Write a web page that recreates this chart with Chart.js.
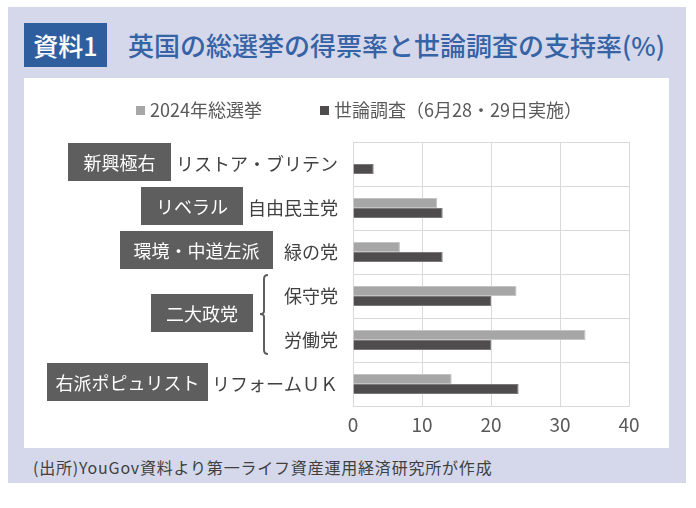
<!DOCTYPE html>
<html lang="ja">
<head>
<meta charset="utf-8">
<script src="https://cdn.jsdelivr.net/npm/chart.js@4"></script>
<style>
  body { margin: 0; background: #fff; font-family: "Noto Sans CJK JP", sans-serif; }
  .frame { position: absolute; left: 8px; top: 7px; width: 678px; height: 476px; background: #d5d8ea; }
  .badge { position: absolute; left: 24px; top: 23px; width: 83px; height: 44px; background: #2f5e9f;
           color: #fff; font-size: 25px; line-height: 44px; text-align: center; font-weight: 500; }
  .title { position: absolute; left: 128px; top: 27px; font-size: 26px; line-height: 36px; color: #3563a6; font-weight: 500; }
  .panel { position: absolute; left: 24px; top: 78px; width: 645px; height: 370px; background: #fff; }
  .source { position: absolute; left: 33px; top: 456px; font-size: 16px; line-height: 22px; color: #404040; letter-spacing: 0.8px; }
</style>
</head>
<body>
<div class="frame"></div>
<div class="badge">資料1</div>
<div class="title">英国の総選挙の得票率と世論調査の支持率(%)</div>
<div class="panel"><canvas id="chart" width="645" height="370"></canvas></div>
<div class="source">(出所)YouGov資料より第一ライフ資産運用経済研究所が作成</div>
<script>
// data
const parties = ['リストア・ブリテン', '自由民主党', '緑の党', '保守党', '労働党', 'リフォームＵＫ'];
const election2024 = [null, 12.2, 6.8, 23.7, 33.7, 14.3];
const pollJune = [3, 13, 13, 20, 20, 24];
const seriesNames = ['2024年総選挙', '世論調査（6月28・29日実施）'];
const xTicks = [0, 10, 20, 30, 40];
// group tags on the left: text and which row(s) they belong to
const groupNames = ['新興極右', 'リベラル', '環境・中道左派', '二大政党', '右派ポピュリスト'];
const groupRows = [[0], [1], [2], [3, 4], [5]];

// left/right edge of each tag box (canvas px)
const tagBoxes = [[44, 147], [117, 219], [96, 249], [127, 229], [23, 184]];

const font = '"Noto Sans CJK JP", sans-serif';

const sidePlugin = {
  id: 'side',
  afterDraw(chart) {
    const ctx = chart.ctx;
    const y = chart.scales.y;
    ctx.save();

    // legend line
    ctx.font = '18px ' + font;
    ctx.textBaseline = 'middle';
    const items = chart.data.datasets.map(ds => ({ label: ds.label, color: ds.backgroundColor }));
    const widths = items.map(it => 14 + ctx.measureText(it.label).width);
    const gap = 58;
    const total = widths.reduce((a, b) => a + b, 0) + gap * (items.length - 1);
    let lx = 335 - total / 2;
    items.forEach((it, i) => {
      ctx.fillStyle = it.color;
      ctx.fillRect(lx, 28, 9, 9);
      ctx.fillStyle = '#595959';
      ctx.textAlign = 'left';
      ctx.fillText(it.label, lx + 14, 32);
      lx += widths[i] + gap;
    });

    // tags
    groupNames.forEach((name, i) => {
      const rows = groupRows[i];
      const cy = rows.reduce((s, r) => s + y.getPixelForValue(r), 0) / rows.length - (rows.length > 1 ? 5 : 2);
      const [x0, x1] = tagBoxes[i];
      ctx.fillStyle = '#5e5e5e';
      ctx.fillRect(x0, cy - 19, x1 - x0, 38);
      ctx.fillStyle = '#fff';
      ctx.textAlign = 'center';
      ctx.font = '18px ' + font;
      ctx.fillText(name, (x0 + x1) / 2, cy + 1);
    });

    // brace for the two big parties
    const top = y.getPixelForValue(3) - 21;
    const bot = y.getPixelForValue(4) + 14;
    const mid = (y.getPixelForValue(3) + y.getPixelForValue(4)) / 2 - 4;
    ctx.strokeStyle = '#5e5e5e';
    ctx.lineWidth = 2;
    ctx.beginPath();
    ctx.moveTo(244, top);
    ctx.quadraticCurveTo(240, top, 240, top + 4);
    ctx.lineTo(240, mid - 3);
    ctx.quadraticCurveTo(240, mid, 236, mid);
    ctx.quadraticCurveTo(240, mid, 240, mid + 3);
    ctx.lineTo(240, bot - 4);
    ctx.quadraticCurveTo(240, bot, 244, bot);
    ctx.stroke();
    ctx.restore();
  }
};

new Chart(document.getElementById('chart'), {
  type: 'bar',
  data: {
    labels: parties,
    datasets: [
      { label: seriesNames[0], data: election2024, backgroundColor: '#a6a6a6', borderColor: '#c4c4c4', borderWidth: 1 },
      { label: seriesNames[1], data: pollJune, backgroundColor: '#4f4c4d', borderColor: '#7a7879', borderWidth: 1 }
    ]
  },
  options: {
    indexAxis: 'y',
    responsive: false,
    animation: false,
    categoryPercentage: 0.455,
    barPercentage: 1,
    layout: { padding: { left: 0, right: 40, top: 64, bottom: 12 } },
    plugins: { legend: { display: false }, tooltip: { enabled: false } },
    scales: {
      x: {
        min: 0, max: 40,
        afterBuildTicks: s => { s.ticks = xTicks.map(v => ({ value: v })); },
        afterFit: s => { s.height = 30; },
        grid: { color: '#d9d9d9', drawTicks: false },
        border: { color: '#d9d9d9' },
        ticks: { color: '#595959', padding: 7, font: { family: font, size: 19 } }
      },
      y: {
        afterFit: s => { s.width = 329; },
        grid: { color: '#d9d9d9', drawTicks: false, offset: true },
        border: { color: '#d9d9d9' },
        ticks: { color: '#404040', padding: 15, font: { family: font, size: 18 } }
      }
    }
  },
  plugins: [sidePlugin]
});
</script>
</body>
</html>
